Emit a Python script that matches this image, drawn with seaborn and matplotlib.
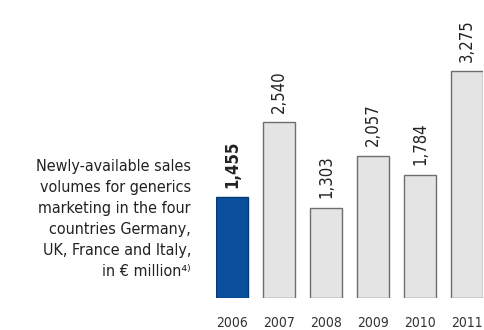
import matplotlib
matplotlib.use("Agg")
import matplotlib.pyplot as plt
import seaborn as sns
import pandas as pd

years = ["2006", "2007", "2008", "2009", "2010", "2011"]
volumes = [1455, 2540, 1303, 2057, 1784, 3275]
highlight_year = "2006"

blue = "#0a4f9c"
blue_edge = "#063a75"
grey = "#e4e4e4"
grey_edge = "#6e6e6e"

sns.set_theme(style="white")
plt.rcParams["font.family"] = ["DejaVu Sans"]
plt.rcParams["font.stretch"] = "condensed"

df = pd.DataFrame({"year": years, "volume": volumes})
colors = [blue if y == highlight_year else grey for y in years]

fig = plt.figure(figsize=(4.84, 3.30), dpi=100)
ax = fig.add_axes([216 / 484, 32 / 330, 267 / 484, 298 / 330])

sns.barplot(data=df, x="year", y="volume", hue="year", palette=colors,
            legend=False, width=0.68, ax=ax, saturation=1)

for patch, y in zip(ax.patches, years):
    patch.set_edgecolor(blue_edge if y == highlight_year else grey_edge)
    patch.set_linewidth(1.0)

ax.set_xlim(-0.34, 5.34)
ax.set_ylim(0, 298 / 0.0692)

for i, (y, v) in enumerate(zip(years, volumes)):
    ax.annotate(f"{v:,}", xy=(i, v), xytext=(0, 7), textcoords="offset points",
                rotation=90, ha="center", va="bottom", fontsize=12,
                color="#222222",
                fontweight="bold" if y == highlight_year else "normal")

ax.set_xlabel("")
ax.set_ylabel("")
ax.set_yticks([])
ax.tick_params(axis="x", length=0, pad=13, labelsize=10, labelcolor="#333333")
for s in ax.spines.values():
    s.set_visible(False)

fig.text(191 / 484, 1 - 219 / 330,
         "Newly-available sales\nvolumes for generics\nmarketing in the four\n"
         "countries Germany,\nUK, France and Italy,\nin € million⁴⁾",
         ha="right", va="center", multialignment="right", fontsize=11.5,
         linespacing=1.5, color="#222222")

fig.savefig("out.png", dpi=100)
